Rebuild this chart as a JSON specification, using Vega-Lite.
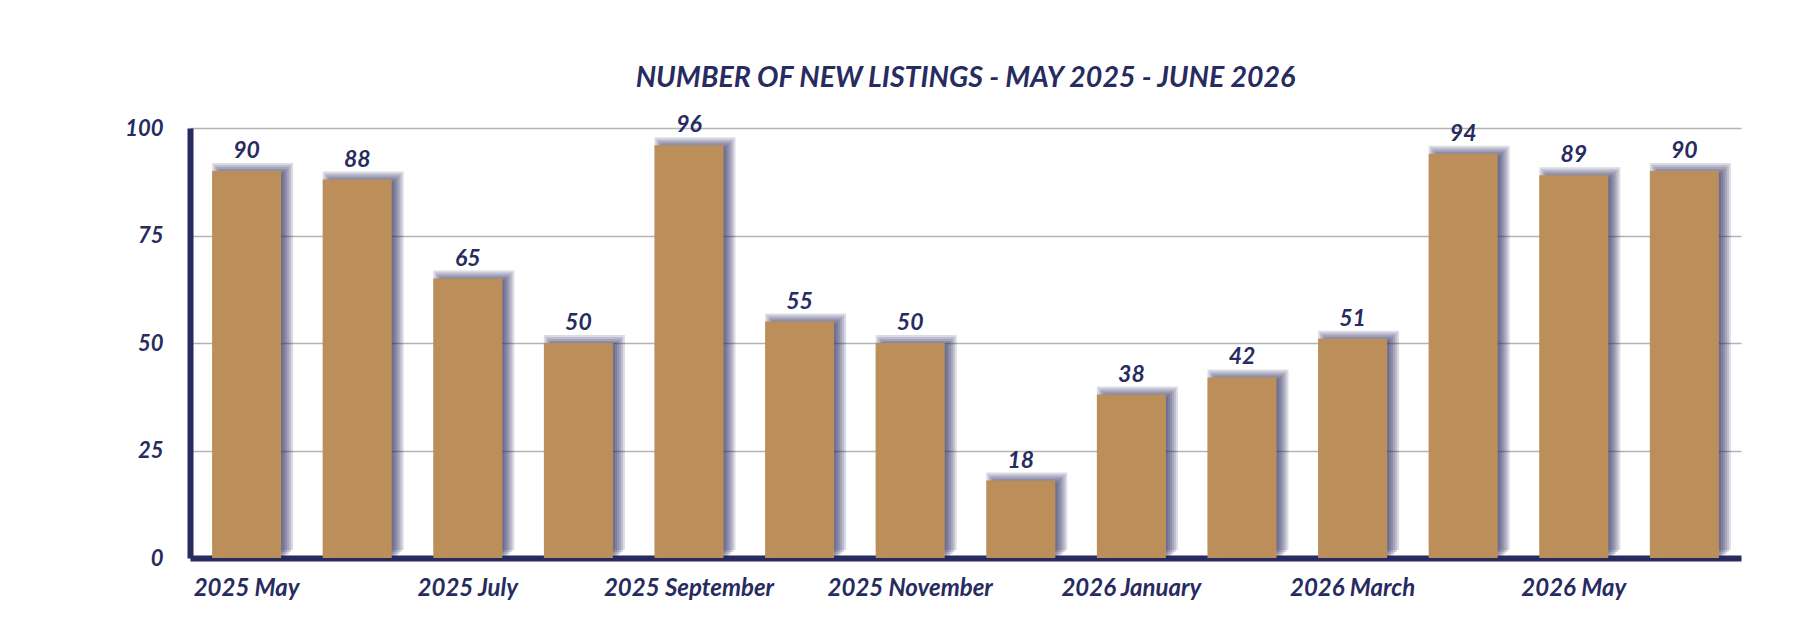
{
  "$schema": "https://vega.github.io/schema/vega-lite/v6.json",
  "autosize": {"type": "none"},
  "padding": {"left": 190, "top": 128, "right": 77, "bottom": 82},
  "width": 1551,
  "height": 430,
  "background": "#ffffff",
  "title": {
    "text": "NUMBER OF NEW LISTINGS - MAY 2025 - JUNE 2026",
    "font": "Lato",
    "fontSize": 28.5,
    "fontWeight": "bold",
    "fontStyle": "italic",
    "color": "#272b5f",
    "anchor": "middle",
    "offset": 22
  },
  "data": {
    "values": [
      {"month": "2025 May", "listings": 90},
      {"month": "2025 June", "listings": 88},
      {"month": "2025 July", "listings": 65},
      {"month": "2025 August", "listings": 50},
      {"month": "2025 September", "listings": 96},
      {"month": "2025 October", "listings": 55},
      {"month": "2025 November", "listings": 50},
      {"month": "2025 December", "listings": 18},
      {"month": "2026 January", "listings": 38},
      {"month": "2026 February", "listings": 42},
      {"month": "2026 March", "listings": 51},
      {"month": "2026 April", "listings": 94},
      {"month": "2026 May", "listings": 89},
      {"month": "2026 June", "listings": 90}
    ]
  },
  "encoding": {
    "x": {
      "field": "month",
      "type": "nominal",
      "sort": null,
      "title": null,
      "scale": {"paddingInner": 0.376, "paddingOuter": 0.2},
      "axis": {
        "values": ["2025 May", "2025 July", "2025 September", "2025 November", "2026 January", "2026 March", "2026 May"],
        "labelAngle": 0,
        "labelFont": "Lato",
        "labelFontSize": 24,
        "labelFontWeight": "bold",
        "labelFontStyle": "italic",
        "labelColor": "#272b5f",
        "labelBaseline": "top",
        "labelPadding": 18,
        "ticks": false,
        "domainColor": "#272b5f",
        "domainWidth": 6,
        "grid": false
      }
    },
    "y": {
      "field": "listings",
      "type": "quantitative",
      "title": null,
      "scale": {"domain": [0, 100], "nice": false},
      "axis": {
        "values": [0, 25, 50, 75, 100],
        "labelFont": "Lato",
        "labelFontSize": 22,
        "labelFontWeight": "bold",
        "labelFontStyle": "italic",
        "labelColor": "#272b5f",
        "labelPadding": 27,
        "ticks": false,
        "domainColor": "#272b5f",
        "domainWidth": 6,
        "gridColor": "#b3b3b3",
        "gridWidth": 1.5
      }
    }
  },
  "layer": [
    {"mark": {"type": "bar", "color": "#272b5f", "opacity": 0.17, "width": 81, "xOffset": 6, "yOffset": -8, "y2Offset": 0}},
    {"mark": {"type": "bar", "color": "#272b5f", "opacity": 0.17, "width": 77, "xOffset": 6, "yOffset": -6, "y2Offset": 0}},
    {"mark": {"type": "bar", "color": "#272b5f", "opacity": 0.17, "width": 73, "xOffset": 6, "yOffset": -4, "y2Offset": 0}},
    {"mark": {"type": "bar", "color": "#272b5f", "opacity": 0.17, "width": 69, "xOffset": 6, "yOffset": -2, "y2Offset": 0}},
    {"mark": {"type": "bar", "color": "#272b5f", "opacity": 0.17, "width": 65, "xOffset": 6, "yOffset": 0, "y2Offset": 0}},
    {"mark": {"type": "bar", "color": "#272b5f", "opacity": 0.17, "width": 61, "xOffset": 6, "yOffset": 2, "y2Offset": 0}},
    {"mark": {"type": "bar", "color": "#bc8f5a"}},
    {
      "mark": {
        "type": "text",
        "font": "Lato",
        "fontSize": 23,
        "fontWeight": "bold",
        "fontStyle": "italic",
        "color": "#272b5f",
        "baseline": "alphabetic",
        "dy": -13
      },
      "encoding": {"text": {"field": "listings", "type": "quantitative"}}
    }
  ],
  "config": {"view": {"stroke": null}}
}
